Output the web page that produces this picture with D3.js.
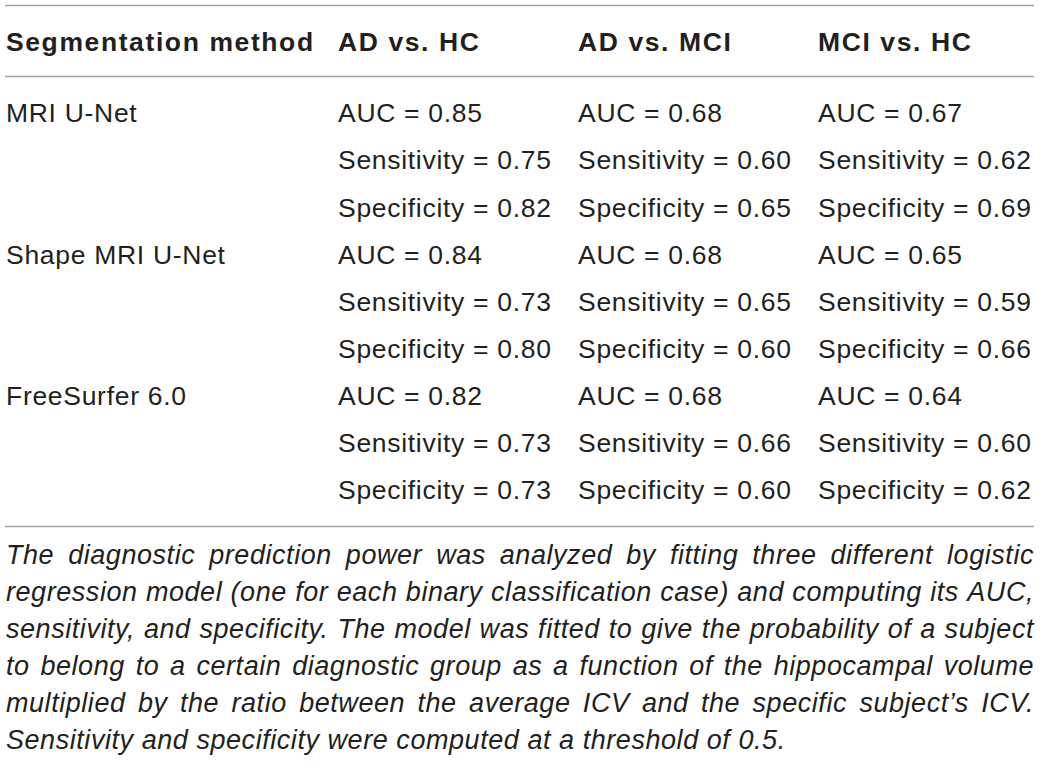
<!DOCTYPE html>
<html>
<head>
<meta charset="utf-8">
<script src="https://cdn.jsdelivr.net/npm/d3@7"></script>
<style>
  html, body { margin: 0; padding: 0; background: #fff; }
  svg { display: block; }
</style>
</head>
<body>
<svg id="chart" width="1040" height="762"></svg>
<script>
// ---- data ----
const headers = ["Segmentation method", "AD vs. HC", "AD vs. MCI", "MCI vs. HC"];
const methods = ["MRI U-Net", "Shape MRI U-Net", "FreeSurfer 6.0"];
const metrics = ["AUC", "Sensitivity", "Specificity"];
const adVsHC  = [[0.85, 0.75, 0.82], [0.84, 0.73, 0.80], [0.82, 0.73, 0.73]];
const adVsMCI = [[0.68, 0.60, 0.65], [0.68, 0.65, 0.60], [0.68, 0.66, 0.60]];
const mciVsHC = [[0.67, 0.62, 0.69], [0.65, 0.59, 0.66], [0.64, 0.60, 0.62]];
const footnoteLines = [
  "The diagnostic prediction power was analyzed by fitting three different logistic",
  "regression model (one for each binary classification case) and computing its AUC,",
  "sensitivity, and specificity. The model was fitted to give the probability of a subject",
  "to belong to a certain diagnostic group as a function of the hippocampal volume",
  "multiplied by the ratio between the average ICV and the specific subject\u2019s ICV.",
  "Sensitivity and specificity were computed at a threshold of 0.5."
];

// ---- layout ----
const left = 6, right = 1034;
const FONT = "'Liberation Sans', Helvetica, Arial, sans-serif";
const TEXT = "#231f20", RULE = "#a3a3a3";
const svg = d3.select("#chart");

const colX = d3.scaleOrdinal().domain([0, 1, 2, 3]).range([6, 338, 578, 818]);
const rowY = d3.scaleLinear().domain([0, 1]).range([122.3, 169.4]);
const noteY = d3.scaleLinear().domain([0, 1]).range([564, 601]);

// rules
const rules = [5.5, 76.5, 526.5];
svg.selectAll("line.rule").data(rules).join("line")
  .attr("class", "rule")
  .attr("x1", 5).attr("x2", right)
  .attr("y1", d => d).attr("y2", d => d)
  .attr("stroke", RULE).attr("stroke-width", 1.5);

// header
svg.selectAll("text.hdr").data(headers).join("text")
  .attr("class", "hdr")
  .attr("x", (d, i) => colX(i)).attr("y", 51)
  .attr("font-family", FONT).attr("font-weight", "bold")
  .attr("font-size", 26.5).attr("letter-spacing", 1.6)
  .attr("fill", TEXT).text(d => d);

// body cells
const cols = [adVsHC, adVsMCI, mciVsHC];
const cells = [];
methods.forEach((m, mi) => {
  cells.push({ row: mi * 3, col: 0, text: m });
  metrics.forEach((k, ki) => {
    cols.forEach((c, ci) => {
      cells.push({ row: mi * 3 + ki, col: ci + 1, text: k + " = " + d3.format(".2f")(c[mi][ki]) });
    });
  });
});
svg.selectAll("text.cell").data(cells).join("text")
  .attr("class", "cell")
  .attr("x", d => colX(d.col)).attr("y", d => rowY(d.row))
  .attr("font-family", FONT).attr("font-size", 26.5).attr("letter-spacing", 0.7)
  .attr("fill", TEXT).text(d => d.text);

// footnote (justified, italic)
const noteFont = { size: 27, ls: 0.55 };
footnoteLines.forEach((line, li) => {
  const words = line.split(" ");
  const g = svg.append("g");
  const ts = g.selectAll("text").data(words).join("text")
    .attr("y", noteY(li))
    .attr("font-family", FONT).attr("font-style", "italic")
    .attr("font-size", noteFont.size).attr("letter-spacing", noteFont.ls)
    .attr("fill", TEXT).text(d => d);
  const widths = ts.nodes().map(n => n.getComputedTextLength());
  const total = d3.sum(widths);
  const last = li === footnoteLines.length - 1;
  const space = noteFont.size * 0.278 + noteFont.ls;
  const gap = last ? space : (right - left - total) / (words.length - 1);
  let x = left;
  ts.each(function (d, i) {
    d3.select(this).attr("x", x);
    x += widths[i] + gap;
  });
});
</script>
</body>
</html>
